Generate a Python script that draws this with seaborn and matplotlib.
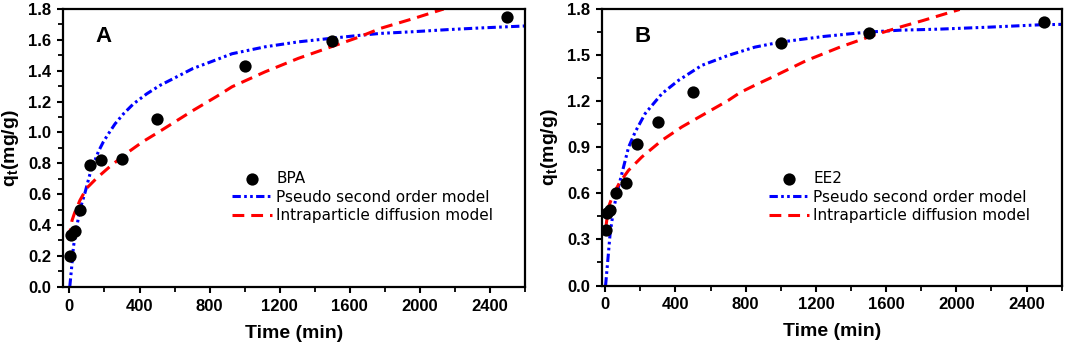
import numpy as np
import pandas as pd
import matplotlib
matplotlib.use("Agg")
import matplotlib.pyplot as plt
from matplotlib.ticker import MultipleLocator
import seaborn as sns

# ---------------- data ----------------
time_pts = [5, 10, 30, 60, 120, 180, 300, 500, 1000, 1500, 2500]
bpa_q = [0.20, 0.335, 0.36, 0.50, 0.79, 0.82, 0.83, 1.09, 1.43, 1.59, 1.745]
ee2_q = [0.36, 0.47, 0.49, 0.603, 0.668, 0.919, 1.064, 1.257, 1.58, 1.645, 1.714]

a_pso_t = [2, 13, 23, 42, 60, 89, 117, 146, 165, 194, 222, 260, 308, 365, 441, 517,
           612, 706, 801, 928, 1117, 1306, 1494, 1645, 1777, 1966, 2154, 2343, 2600]
a_pso_q = [0.0, 0.13, 0.26, 0.39, 0.50, 0.61, 0.73, 0.82, 0.875, 0.94, 0.99, 1.055,
           1.12, 1.185, 1.25, 1.305, 1.36, 1.415, 1.455, 1.51, 1.555, 1.587, 1.61,
           1.628, 1.642, 1.653, 1.666, 1.677, 1.69]
a_ipd_t = [2, 5, 15, 30, 60, 98, 155, 230, 325, 419, 513, 702, 843, 928, 1117,
           1306, 1494, 1645, 1777, 1966, 2136]
a_ipd_q = [0.30, 0.37, 0.43, 0.48, 0.56, 0.638, 0.703, 0.778, 0.864, 0.94, 1.005,
           1.14, 1.235, 1.296, 1.393, 1.48, 1.555, 1.615, 1.675, 1.739, 1.80]

b_pso_t = [2, 15, 28, 47, 67, 95, 133, 171, 228, 323, 417, 550, 701, 853, 995,
           1242, 1488, 1678, 1905, 2190, 2474, 2600]
b_pso_q = [0.0, 0.166, 0.339, 0.49, 0.602, 0.729, 0.90, 1.0, 1.12, 1.249, 1.335,
           1.433, 1.498, 1.552, 1.584, 1.621, 1.649, 1.662, 1.669, 1.682, 1.697, 1.70]
b_ipd_t = [2, 4, 19, 47, 85, 133, 209, 323, 436, 569, 701, 768, 853, 958, 1147,
           1337, 1526, 1678, 1810, 2019]
b_ipd_q = [0.36, 0.382, 0.512, 0.598, 0.675, 0.75, 0.837, 0.945, 1.032, 1.119,
           1.205, 1.256, 1.304, 1.36, 1.465, 1.552, 1.628, 1.682, 1.725, 1.797]

x_ticks = [0, 400, 800, 1200, 1600, 2000, 2400]
panel_labels = ["A", "B"]
series_names = ["BPA", "EE2"]
model_names = ["Pseudo second order model", "Intraparticle diffusion model"]

# ---------------- style ----------------
sns.set_theme(style="ticks")
plt.rcParams["font.family"] = ["Liberation Sans", "DejaVu Sans"]
plt.rcParams["mathtext.fontset"] = "custom"
plt.rcParams["mathtext.bf"] = "Liberation Sans:bold"
plt.rcParams["mathtext.rm"] = "Liberation Sans"
plt.rcParams["lines.scale_dashes"] = False
for k in ["text.color", "axes.labelcolor", "xtick.color", "ytick.color",
          "xtick.labelcolor", "ytick.labelcolor", "axes.edgecolor"]:
    plt.rcParams[k] = "black"

BLUE = "#0000FF"
RED = "#FF0000"

fig = plt.figure(figsize=(10.65, 3.45), dpi=100)
axA = fig.add_axes([63.3 / 1065, 1 - 286.7 / 345, (525 - 63.3) / 1065, (286.7 - 9) / 345])
axB = fig.add_axes([601.7 / 1065, 1 - 285.5 / 345, (1061.7 - 601.7) / 1065, (285.5 - 9) / 345])

panels = [
    (axA, bpa_q, a_pso_t, a_pso_q, a_ipd_t, a_ipd_q, (-35, 2600), 0.2, 0.1, (0.365, 0.416)),
    (axB, ee2_q, b_pso_t, b_pso_q, b_ipd_t, b_ipd_q, (-20, 2600), 0.3, 0.15, (0.364, 0.413)),
]

for i, (ax, q, pt, pq, it, iq, xl, ymaj, ymin, lpos) in enumerate(panels):
    sns.lineplot(x=pt, y=pq, ax=ax, color=BLUE, lw=2.2, sort=False, estimator=None)
    l_pso = ax.lines[-1]
    l_pso.set_dashes([6.0, 2.4, 1.9, 2.4, 1.9, 2.4])
    sns.lineplot(x=it, y=iq, ax=ax, color=RED, lw=2.2, sort=False, estimator=None)
    l_ipd = ax.lines[-1]
    l_ipd.set_dashes([8.5, 5.0])
    sns.scatterplot(x=time_pts, y=q, ax=ax, color="black", edgecolor="black",
                    s=78, linewidth=0, zorder=5)
    sc = ax.collections[-1]

    ax.set_xlim(*xl)
    ax.set_ylim(0, 1.8)
    ax.set_xticks(x_ticks)
    ax.xaxis.set_minor_locator(MultipleLocator(200))
    ax.yaxis.set_major_locator(MultipleLocator(ymaj))
    ax.yaxis.set_minor_locator(MultipleLocator(ymin))
    ax.yaxis.set_major_formatter(plt.FuncFormatter(lambda v, p: f"{v:.1f}"))
    ax.tick_params(axis="both", which="major", direction="out", length=4.5, width=1.5,
                   labelsize=12, pad=4, color="black", labelcolor="black")
    ax.tick_params(axis="both", which="minor", direction="out", length=3.5, width=1.3,
                   color="black")
    for lab in ax.get_xticklabels() + ax.get_yticklabels():
        lab.set_fontweight("bold")
    for s in ax.spines.values():
        s.set_visible(True)
        s.set_linewidth(1.6)
        s.set_color("black")

    ax.set_xlabel("Time (min)", fontsize=14, fontweight="bold", labelpad=8, color="black")
    ax.set_ylabel(r"q$_\mathbf{t}$(mg/g)", fontsize=14, fontweight="bold", labelpad=5,
                  color="black")

    ax.text(0.088, 0.902, panel_labels[i], transform=ax.transAxes,
            fontsize=16, fontweight="bold", ha="center", va="center", color="black")

    if ax.get_legend() is not None:
        ax.get_legend().remove()
    leg = ax.legend([sc, l_pso, l_ipd], [series_names[i]] + model_names,
                    loc="upper left", bbox_to_anchor=lpos, frameon=False,
                    prop={"family": "DejaVu Sans", "size": 11},
                    borderpad=0, borderaxespad=0, handlelength=2.6, handletextpad=0.3,
                    labelspacing=0.22, markerscale=1.0)
    for t in leg.get_texts():
        t.set_color("black")

fig.savefig("out.png", dpi=100)
